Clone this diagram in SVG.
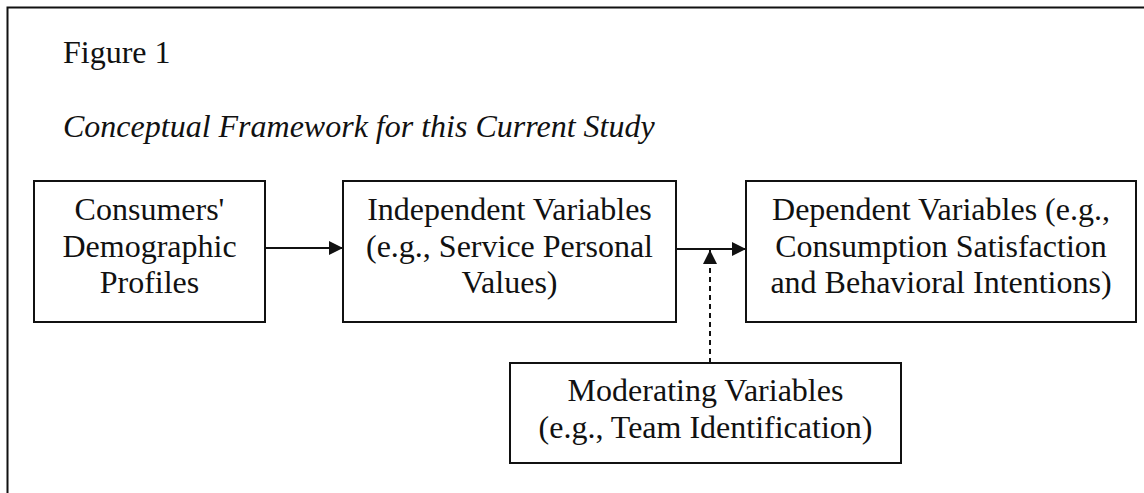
<svg xmlns="http://www.w3.org/2000/svg" width="1144" height="493" viewBox="0 0 1144 493">
<style>
.t{font-family:"Liberation Serif","Times New Roman",serif;font-size:32px;fill:#111}
.c{text-anchor:middle}
.box{fill:#fff;stroke:#111;stroke-width:2}
.ln{stroke:#111;stroke-width:2;fill:none}
</style>
<defs>
<marker id="ah" viewBox="0 0 10 10" refX="10" refY="5" markerWidth="14" markerHeight="14" markerUnits="userSpaceOnUse" orient="auto">
<path d="M0,0 L10,5 L0,10 Z" fill="#111"/>
</marker>
</defs>
<rect width="1144" height="493" fill="#fff"/>
<g id="frame">
<path class="ln" d="M7.5,493 V7.5 H1144"/>
</g>
<text class="t" x="63" y="63">Figure 1</text>
<text class="t" x="63" y="137" font-style="italic">Conceptual Framework for this Current Study</text>
<g id="connectors">
<line class="ln" x1="265" y1="248" x2="343" y2="248" marker-end="url(#ah)"/>
<line class="ln" x1="676" y1="249" x2="746" y2="249" marker-end="url(#ah)"/>
<line class="ln" x1="710" y1="363" x2="710" y2="250" stroke-width="2.5" stroke-dasharray="5,4" marker-end="url(#ah)"/>
</g>
<g id="node-demographic">
<rect class="box" x="34" y="181" width="231" height="141"/>
<text class="t c" x="149.5" y="220">Consumers'</text>
<text class="t c" x="149.5" y="257">Demographic</text>
<text class="t c" x="149.5" y="293">Profiles</text>
</g>
<g id="node-independent">
<rect class="box" x="343" y="181" width="333" height="141"/>
<text class="t c" x="509.5" y="220">Independent Variables</text>
<text class="t c" x="509.5" y="257">(e.g., Service Personal</text>
<text class="t c" x="509.5" y="293">Values)</text>
</g>
<g id="node-dependent">
<rect class="box" x="746" y="181" width="390" height="141"/>
<text class="t c" x="941" y="220">Dependent Variables (e.g.,</text>
<text class="t c" x="941" y="257">Consumption Satisfaction</text>
<text class="t c" x="941" y="293">and Behavioral Intentions)</text>
</g>
<g id="node-moderating">
<rect class="box" x="510" y="363" width="391" height="100"/>
<text class="t c" x="705.5" y="401">Moderating Variables</text>
<text class="t c" x="705.5" y="438">(e.g., Team Identification)</text>
</g>
</svg>
